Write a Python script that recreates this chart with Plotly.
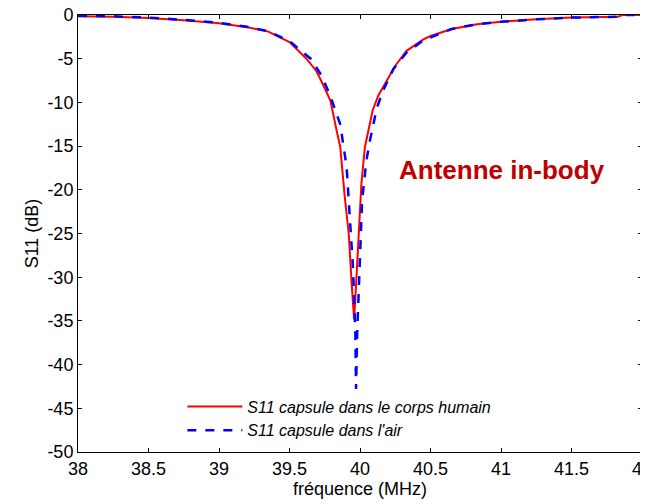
import plotly.graph_objects as go

# Red: S11 capsule dans le corps humain
freq_body = [38.0, 38.25, 38.5, 38.75, 39.0, 39.2, 39.35, 39.5, 39.62, 39.69, 39.73, 39.79,
             39.83, 39.86, 39.89, 39.92, 39.94, 39.958, 39.97, 39.99, 40.01, 40.035, 40.06,
             40.09, 40.13, 40.165, 40.21, 40.25, 40.33, 40.45, 40.5, 40.65, 40.83, 41.0,
             41.25, 41.5, 41.83, 41.86, 42.0]
s11_body = [-0.15, -0.2, -0.35, -0.6, -0.95, -1.4, -1.9, -3.1, -5.0, -6.4, -7.7, -9.8,
            -12.9, -15.1, -20.5, -25.0, -30.5, -34.8, -31.5, -25.0, -19.3, -15.1, -13.2,
            -10.9, -9.2, -8.2, -6.8, -5.8, -4.1, -2.8, -2.4, -1.6, -1.05, -0.78,
            -0.5, -0.3, -0.2, 0.0, 0.0]

# Blue: S11 capsule dans l'air
freq_air = [38.0, 38.25, 38.5, 38.75, 39.0, 39.2, 39.35, 39.5, 39.65, 39.73, 39.79, 39.86,
            39.905, 39.925, 39.95, 39.967, 39.972, 39.98, 39.998, 40.015, 40.045, 40.07, 40.12,
            40.165, 40.236, 40.33, 40.45, 40.65, 40.83, 41.0, 41.25, 41.5, 41.83, 41.86, 42.0]
s11_air = [-0.1, -0.15, -0.3, -0.55, -0.9, -1.35, -1.85, -3.0, -5.0, -7.0, -9.3, -12.5,
           -17.4, -22.0, -28.8, -36.4, -42.8, -36.4, -28.8, -21.2, -16.7, -14.4, -10.6,
           -8.6, -6.2, -4.3, -2.9, -1.6, -1.05, -0.78, -0.5, -0.3, -0.2, 0.0, 0.0]

x_ticks = [38, 38.5, 39, 39.5, 40, 40.5, 41, 41.5, 42]
x_labels = ["38", "38.5", "39", "39.5", "40", "40.5", "41", "41.5", "42"]
y_ticks = [0, -5, -10, -15, -20, -25, -30, -35, -40, -45, -50]
y_labels = ["0", "-5", "-10", "-15", "-20", "-25", "-30", "-35", "-40", "-45", "-50"]

font_family = "Liberation Sans, Arial, sans-serif"

fig = go.Figure()
fig.add_trace(go.Scatter(x=freq_body, y=s11_body, mode="lines",
                         name="S11 capsule dans le corps humain",
                         line=dict(color="#ff0000", width=2)))
fig.add_trace(go.Scatter(x=freq_air, y=s11_air, mode="lines",
                         name="S11 capsule dans l'air",
                         line=dict(color="#0000ff", width=2.5, dash="dash")))

fig.add_annotation(x=41.01, y=-17.7, text="<b>Antenne in-body</b>", showarrow=False,
                   font=dict(family=font_family, size=26, color="#c00000"))

axis_common = dict(showline=True, linecolor="black", linewidth=1, mirror="ticks",
                   ticks="inside", ticklen=4, tickcolor="black", showgrid=False,
                   zeroline=False, automargin=False, ticklabeloverflow="allow",
                   tickfont=dict(family=font_family, size=18, color="black"))

fig.update_xaxes(range=[38, 42], tickvals=x_ticks, ticktext=x_labels,
                 title=dict(text="fréquence (MHz)", standoff=4,
                            font=dict(family=font_family, size=18, color="black")),
                 **axis_common)
fig.update_yaxes(range=[-50, 0], tickvals=y_ticks, ticktext=y_labels,
                 title=dict(text="S11 (dB)", standoff=4,
                            font=dict(family=font_family, size=18, color="black")),
                 **axis_common)

fig.update_layout(
    width=648, height=504,
    margin=dict(l=70, r=14, t=7, b=60),
    plot_bgcolor="white", paper_bgcolor="white",
    showlegend=True,
    legend=dict(x=0.185, y=0.143, xanchor="left", yanchor="top",
                bgcolor="rgba(255,255,255,0)", borderwidth=0,
                itemwidth=55, tracegroupgap=0,
                font=dict(family=font_family, size=16, color="black", style="italic")),
)

fig.write_html("out.html")
